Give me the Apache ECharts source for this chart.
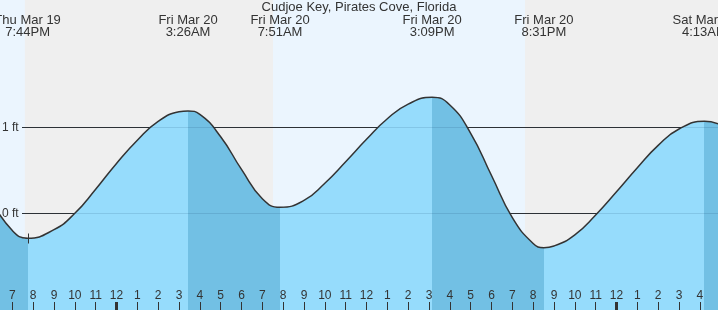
<!DOCTYPE html>
<html><head><meta charset="utf-8">
<script src="https://cdn.jsdelivr.net/npm/echarts@6/dist/echarts.min.js"></script>
<style>html,body{margin:0;padding:0;background:#efefef}#c{width:718px;height:310px}</style>
</head><body><div id="c"></div>
<script>
// All times are hours relative to Fri Mar 20, 00:00 (local)
const chartTitle = 'Cudjoe Key, Pirates Cove, Florida';
const curveHours = [-6, -5, -4.2667, -3, -2, -1, 0, 1, 2, 3, 3.4333, 4, 5, 6, 7, 7.85, 9, 10, 11, 12, 13, 14, 15.15, 16, 17, 18, 19, 20, 20.5167, 21, 22, 23, 24, 25, 26, 27, 28.2167, 29];
const curveFeet  = [0.15, -0.20, -0.29, -0.19, 0.00, 0.28, 0.58, 0.85, 1.07, 1.18, 1.19, 1.15, 0.89, 0.51, 0.17, 0.07, 0.15, 0.35, 0.60, 0.86, 1.10, 1.27, 1.35, 1.26, 0.93, 0.44, -0.05, -0.35, -0.40, -0.38, -0.25, -0.02, 0.25, 0.53, 0.79, 0.98, 1.07, 1.03];
const tideHours = [-4.2667, 3.4333, 7.85, 15.15, 20.5167, 28.2167];
const tideFeet  = [-0.29, 1.19, 0.07, 1.35, -0.40, 1.07];
const tideDays  = ['Thu Mar 19', 'Fri Mar 20', 'Fri Mar 20', 'Fri Mar 20', 'Fri Mar 20', 'Sat Mar 21'];
const tideTimes = ['7:44PM', '3:26AM', '7:51AM', '3:09PM', '8:31PM', '4:13AM'];
const daylight  = [[-6, -4.40], [7.51, 19.61]];
const midnights = [0, 24];
const feetTicks  = [0, 1];
const feetLabels = ['0 ft', '1 ft'];
const markerPoint = [-4.2667, -0.29];
const hourRange = [-6, 29];
const feetRange = [-1.124, 2.48];

const FONT = '"Liberation Sans", Arial, sans-serif';
const DARK = '#72c0e4', LIGHT = '#96dcfc', DAY = '#ebf5fe', TXT = '#333';

const curve = curveHours.map((h, i) => [h, curveFeet[i]]);

// falling (high -> low) = dark, rising = light
const pieces = [];
pieces.push({gte: hourRange[0] - 10, lt: tideHours[0], color: tideFeet[0] < tideFeet[1] ? DARK : LIGHT});
for (let i = 0; i < tideHours.length - 1; i++) {
  pieces.push({gte: tideHours[i], lt: tideHours[i + 1], color: tideFeet[i] > tideFeet[i + 1] ? DARK : LIGHT});
}
const nL = tideHours.length;
pieces.push({gte: tideHours[nL - 1], lte: hourRange[1] + 10, color: tideFeet[nL - 1] > tideFeet[nL - 2] ? DARK : LIGHT});

function hourLabel(v) {
  let h = ((Math.round(v) % 24) + 24) % 24;
  h = h % 12; if (h === 0) h = 12;
  return String(h);
}

const chart = echarts.init(document.getElementById('c'));
chart.setOption({
  animation: false,
  backgroundColor: '#efefef',
  title: {
    text: chartTitle, left: 'center', top: 1, padding: 0,
    textStyle: {fontSize: 13, fontWeight: 'normal', color: TXT, fontFamily: FONT, lineHeight: 13}
  },
  grid: {left: -8.5, right: -2.67, top: 0, bottom: 0, outerBoundsMode: 'none', containLabel: false},
  xAxis: {
    type: 'value', min: hourRange[0], max: hourRange[1], interval: 1, z: 10,
    axisLine: {show: false, onZero: false}, splitLine: {show: false},
    axisTick: {inside: true, length: 8, lineStyle: {color: TXT, width: 1}},
    axisLabel: {inside: true, margin: 8, showMinLabel: false, showMaxLabel: false,
      fontSize: 12, color: TXT, fontFamily: FONT, formatter: hourLabel}
  },
  yAxis: {type: 'value', min: feetRange[0], max: feetRange[1], show: false, splitLine: {show: false}},
  visualMap: {type: 'piecewise', show: false, dimension: 0, seriesIndex: 2, pieces: pieces, outOfRange: {color: DARK}},
  series: [
    { // daylight backgrounds
      type: 'custom', z: 0, silent: true, clip: false,
      data: daylight,
      encode: {x: [0, 1]},
      renderItem(p, api) {
        const a = api.coord([api.value(0), feetRange[1]]);
        const b = api.coord([api.value(1), feetRange[0]]);
        return {type: 'rect', shape: {x: a[0], y: a[1], width: b[0] - a[0], height: b[1] - a[1]}, style: {fill: DAY}};
      }
    },
    { // gridlines (under fill)
      type: 'custom', z: 1, silent: true, clip: false,
      data: feetTicks.map(v => [0, v]),
      encode: {x: 0, y: 1},
      renderItem(p, api) {
        const y = Math.round(api.coord([0, api.value(1)])[1]) + 0.5;
        return {type: 'line', shape: {x1: 22, y1: y, x2: 718, y2: y}, style: {stroke: '#333', lineWidth: 1}};
      }
    },
    { // tide fill
      type: 'line', z: 2, silent: true, data: curve, smooth: 0.5,
      symbol: 'none', showSymbol: false,
      lineStyle: {width: 0, opacity: 0},
      areaStyle: {opacity: 1, origin: 'start'}
    },
    { // tide curve
      type: 'line', z: 3, silent: true, data: curve, smooth: 0.5,
      symbol: 'none', showSymbol: false,
      lineStyle: {color: '#333', width: 1.5}
    },
    { // gridline overlay and labels
      type: 'custom', z: 4, silent: true, clip: false,
      data: feetTicks.map(v => [0, v]),
      encode: {x: 0, y: 1},
      renderItem(p, api) {
        const y = Math.round(api.coord([0, api.value(1)])[1]) + 0.5;
        return {type: 'group', children: [
          {type: 'line', shape: {x1: 22, y1: y, x2: 718, y2: y}, style: {stroke: 'rgba(0,40,80,0.12)', lineWidth: 1}},
          {type: 'text', style: {text: feetLabels[p.dataIndex], x: 2, y: y, verticalAlign: 'middle', align: 'left',
            fill: TXT, fontSize: 12, fontFamily: FONT}}
        ]};
      }
    },
    { // tide event labels
      type: 'custom', z: 5, silent: true, clip: false,
      data: tideHours.map((h, i) => [h, tideFeet[i]]),
      encode: {x: 0, y: 1},
      renderItem(p, api) {
        const x = api.coord([api.value(0), 0])[0];
        const i = p.dataIndex;
        return {type: 'text', style: {text: tideDays[i] + '\n' + tideTimes[i], x: x, y: 14,
          align: 'center', verticalAlign: 'top', lineHeight: 12.3, fill: TXT, fontSize: 13, fontFamily: FONT}};
      }
    },
    { // midnight ticks
      type: 'custom', z: 11, silent: true, clip: false,
      data: midnights.map(h => [h, 0]),
      encode: {x: 0, y: 1},
      renderItem(p, api) {
        const x = api.coord([api.value(0), 0])[0];
        return {type: 'rect', shape: {x: x - 1.5, y: 302, width: 3, height: 8}, style: {fill: '#333'}};
      }
    },
    { // cross marker
      type: 'custom', z: 6, silent: true, clip: false,
      data: [markerPoint],
      encode: {x: 0, y: 1},
      renderItem(p, api) {
        const c = api.coord([api.value(0), api.value(1)]);
        const x = Math.round(c[0]) + 0.5, y = Math.round(c[1]) + 0.5;
        return {type: 'group', children: [
          {type: 'line', shape: {x1: x, y1: y - 5, x2: x, y2: y + 5}, style: {stroke: '#333', lineWidth: 1}},
          {type: 'line', shape: {x1: x - 3, y1: y, x2: x + 3, y2: y}, style: {stroke: '#333', lineWidth: 1}}
        ]};
      }
    }
  ]
});
</script></body></html>
